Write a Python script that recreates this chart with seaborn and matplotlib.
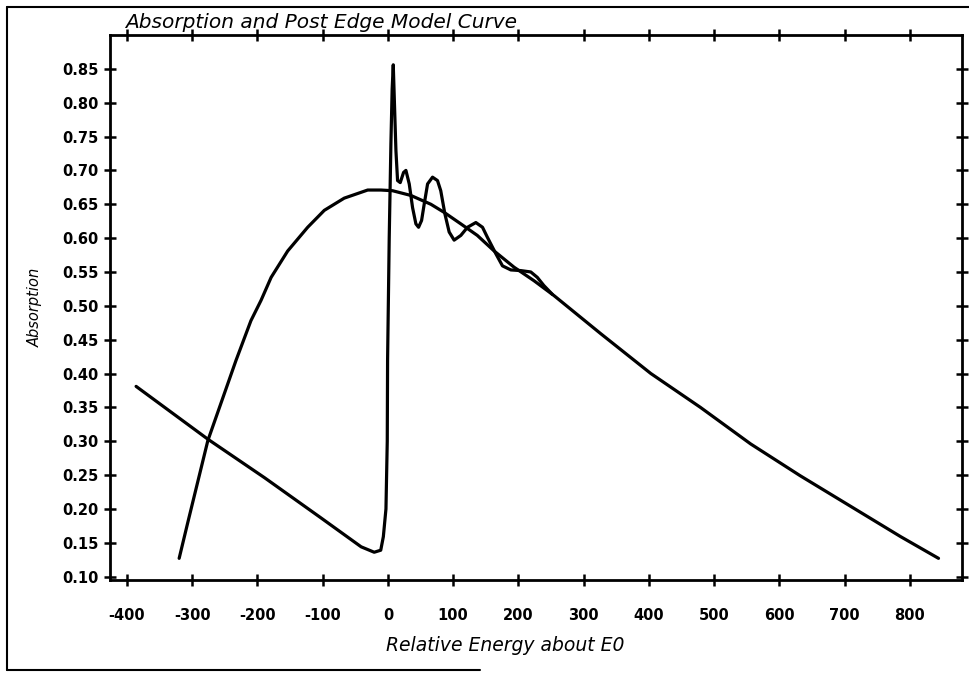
import numpy as np
import pandas as pd
import seaborn as sns
import matplotlib.pyplot as plt
from matplotlib.lines import Line2D

# ------------------------------------------------------------
# data
# ------------------------------------------------------------
# measured absorption: pre-edge line, edge jump, EXAFS wiggles
absorb_x = [-386, -276, -189, -103, -41, -21, -11, -7, -3, -1, -0.5, 2, 4.6, 6.5, 8.2, 10.7,
            12.3, 14.8, 18.9, 24, 27.6, 32.7, 37.8, 42.9, 47, 51.6, 55.6, 60.8, 68.4, 76,
            81, 87.3, 93.9, 101.5, 111.8, 122, 134.8, 145, 152.6, 165.4, 175.6, 188.4,
            203.7, 219, 229, 239, 252]
absorb_y = [0.381, 0.303, 0.246, 0.187, 0.144, 0.136, 0.139, 0.159, 0.20, 0.30, 0.42, 0.60,
            0.74, 0.82, 0.856, 0.778, 0.729, 0.685, 0.682, 0.697, 0.700, 0.680, 0.645,
            0.621, 0.616, 0.626, 0.650, 0.680, 0.690, 0.685, 0.670, 0.636, 0.609, 0.597,
            0.604, 0.616, 0.623, 0.616, 0.601, 0.577, 0.559, 0.553, 0.552, 0.550, 0.542,
            0.530, 0.517]

# post edge model curve
model_x = [-320, -307, -276, -233, -210, -194.5, -179, -153.6, -123, -97.5, -67, -31, -10.7,
           7.1, 35.2, 65.8, 86.2, 111.8, 137, 162.8, 193.4, 224, 254.7, 326, 403, 479, 556,
           632, 709, 786, 844]
model_y = [0.127, 0.179, 0.301, 0.419, 0.478, 0.508, 0.542, 0.581, 0.616, 0.641, 0.659,
           0.671, 0.671, 0.670, 0.663, 0.650, 0.638, 0.621, 0.604, 0.581, 0.557, 0.537,
           0.515, 0.459, 0.400, 0.350, 0.296, 0.249, 0.204, 0.159, 0.127]

x_ticks = [-400, -300, -200, -100, 0, 100, 200, 300, 400, 500, 600, 700, 800]
y_ticks = [0.10, 0.15, 0.20, 0.25, 0.30, 0.35, 0.40, 0.45, 0.50, 0.55, 0.60, 0.65,
           0.70, 0.75, 0.80, 0.85]

df = pd.concat([
    pd.DataFrame({'energy': absorb_x, 'absorption': absorb_y, 'curve': 'measured'}),
    pd.DataFrame({'energy': model_x, 'absorption': model_y, 'curve': 'model'}),
])

# ------------------------------------------------------------
# plot
# ------------------------------------------------------------
sns.set_style("ticks")
plt.rcParams['font.family'] = ['DejaVu Sans']
plt.rcParams['text.color'] = 'black'
plt.rcParams['axes.labelcolor'] = 'black'
plt.rcParams['xtick.color'] = 'black'
plt.rcParams['ytick.color'] = 'black'

W, H = 969, 677
fig = plt.figure(figsize=(W / 100, H / 100), dpi=100)
ax = fig.add_axes([110 / W, 1 - 580 / H, (962 - 110) / W, (580 - 35) / H])

for name, g in df.groupby('curve', sort=False):
    sns.lineplot(data=g, x='energy', y='absorption', sort=False, estimator=None,
                 color='black', lw=2.3, ax=ax, legend=False,
                 solid_joinstyle='round', solid_capstyle='round')

ax.set_xlim(-426, 880)
ax.set_ylim(0.095, 0.90)
ax.set_xticks(x_ticks)
ax.set_yticks(y_ticks)
ax.set_xticklabels([str(v) for v in x_ticks], fontsize=10.5, fontweight='bold')
ax.set_yticklabels([f"{v:.2f}" for v in y_ticks], fontsize=10.5, fontweight='bold')

for side in ['left', 'right', 'top', 'bottom']:
    ax.spines[side].set_visible(True)
    ax.spines[side].set_linewidth(2)
    ax.spines[side].set_color('black')
ax.tick_params(direction='inout', length=9, width=1.8, color='black',
               top=True, right=True, labeltop=False, labelright=False)
ax.tick_params(axis='x', pad=16)
ax.tick_params(axis='y', pad=4)

ax.set_xlabel('Relative Energy about E0', fontsize=13.5, fontstyle='italic')
ax.xaxis.set_label_coords((505 - 110) / 852, -(636 - 580) / 545)
ax.set_ylabel('Absorption', fontsize=10.5, fontstyle='italic', labelpad=14)
ax.grid(False)

fig.text(125 / W, 1 - 22 / H, 'Absorption and Post Edge Model Curve', fontsize=14.5,
         fontstyle='italic', ha='left', va='center')

# scanned page frame
fig.add_artist(Line2D([7 / W, 1.0], [1 - 7 / H, 1 - 7 / H], color='black', lw=1.5))
fig.add_artist(Line2D([7 / W, 7 / W], [1 - 7 / H, 1 - 670 / H], color='black', lw=1.5))
fig.add_artist(Line2D([7 / W, 480 / W], [1 - 670 / H, 1 - 670 / H], color='black', lw=1.5))

fig.savefig('out.png', dpi=100)
